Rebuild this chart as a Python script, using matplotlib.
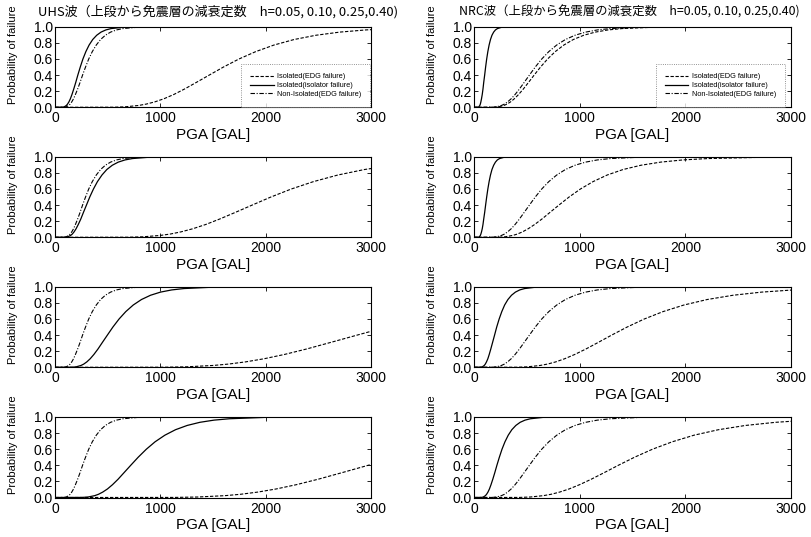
import matplotlib
matplotlib.use("Agg")
import matplotlib.pyplot as plt

plt.rcParams['font.family'] = ['Liberation Sans', 'Noto Sans CJK JP']

pga_max = 3000
p_levels = [0.001, 0.006, 0.023, 0.040, 0.067, 0.106, 0.159, 0.227, 0.309, 0.401, 0.5,
            0.599, 0.691, 0.773, 0.841, 0.894, 0.933, 0.960, 0.977, 0.994, 0.999]

# PGA [gal] where each fragility curve reaches p_levels
# rows: damping h = 0.05, 0.10, 0.25, 0.40
uhs_iso_edg = [
    [560, 667, 795, 867, 947, 1034, 1128, 1230, 1342, 1466, 1600, 1746, 1906, 2080,
     2270, 2478, 2704, 2952, 3222],
    [697, 834, 998, 1093, 1195, 1308, 1431, 1564, 1712, 1874, 2050, 2243, 2454, 2686,
     2938, 3214],
    [1040, 1251, 1503, 1647, 1808, 1985, 2177, 2388, 2618, 2873, 3150],
    [1138, 1355, 1615, 1762, 1924, 2100, 2291, 2499, 2727, 2977, 3250],
]
uhs_iso_iso = [
    [72, 88, 108, 119, 132, 146, 161, 178, 197, 217, 240, 265, 293, 324, 358, 396, 437,
     483, 534, 652, 797],
    [99, 121, 148, 164, 181, 200, 221, 245, 270, 299, 330, 365, 403, 446, 492, 544, 601,
     665, 735, 897, 1096],
    [166, 202, 247, 273, 302, 334, 369, 408, 450, 498, 550, 608, 672, 743, 821, 907, 1002,
     1108, 1224, 1495, 1826],
    [261, 314, 377, 413, 453, 498, 546, 599, 656, 720, 790, 867, 950, 1043, 1144, 1255,
     1376, 1510, 1656, 1992, 2397],
]
uhs_non_iso = [87, 107, 130, 144, 159, 176, 194, 215, 238, 262, 290, 320, 354, 392, 433,
               478, 528, 584, 646, 788, 963]

nrc_iso_edg = [
    [190, 232, 283, 313, 346, 382, 422, 467, 516, 570, 630, 696, 769, 851, 940, 1039,
     1148, 1269, 1402, 1712, 2092],
    [233, 293, 366, 410, 458, 513, 574, 643, 719, 805, 900, 1007, 1127, 1261, 1411, 1580,
     1768, 1978, 2214, 2772, 3471],
    [412, 508, 626, 696, 773, 858, 953, 1059, 1176, 1305, 1450, 1611, 1789, 1987, 2207,
     2452, 2723, 3025],
    [432, 532, 657, 730, 810, 900, 999, 1110, 1233, 1368, 1520, 1689, 1876, 2082, 2313,
     2570, 2855, 3171],
]
nrc_iso_iso = [
    [39, 46, 55, 60, 65, 71, 78, 85, 92, 101, 110, 120, 131, 143, 156, 170, 186, 203, 222,
     264, 314],
    [42, 50, 60, 65, 71, 78, 85, 92, 101, 110, 120, 131, 143, 156, 170, 186, 203, 221, 242,
     288, 343],
    [65, 79, 97, 107, 118, 131, 144, 159, 176, 195, 215, 238, 263, 290, 321, 355, 392, 433,
     479, 584, 714],
    [72, 88, 108, 119, 132, 146, 161, 178, 197, 217, 240, 265, 293, 324, 358, 396, 437,
     483, 534, 652, 797],
]
nrc_non_iso = [175, 213, 260, 288, 318, 352, 389, 430, 475, 525, 580, 641, 708, 783, 865,
               956, 1057, 1168, 1291, 1576, 1926]

legend_labels = ['Isolated(EDG failure)', 'Isolated(isolator failure)',
                 'Non-Isolated(EDG failure)']
titles = ['UHS波（上段から免震層の減衰定数\u3000h=0.05, 0.10, 0.25,0.40)',
          'NRC波（上段から免震層の減衰定数\u3000h=0.05, 0.10, 0.25,0.40)']


def curve(pga):
    x = [0] + list(pga)
    y = [0] + p_levels[:len(pga)]
    if pga[-1] < pga_max:
        x.append(pga_max)
        y.append(1.0)
    return x, y


W, H = 811, 537
fig = plt.figure(figsize=(W / 100, H / 100), dpi=100)

col_left = [55, 474]
col_width = [316, 317]
row_bottom = [107.3, 237.3, 367.3, 497.5]
ax_h = 80.6

data = [(uhs_iso_edg, uhs_iso_iso, uhs_non_iso),
        (nrc_iso_edg, nrc_iso_iso, nrc_non_iso)]
legend_x = [1.0, 0.984]

for c in range(2):
    edg, iso, non = data[c]
    for r in range(4):
        ax = fig.add_axes([col_left[c] / W, 1 - row_bottom[r] / H,
                           col_width[c] / W, ax_h / H])
        x, y = curve(edg[r])
        ax.plot(x, y, color='k', lw=0.8, dashes=(3, 1.5), label=legend_labels[0])
        x, y = curve(iso[r])
        ax.plot(x, y, color='k', lw=0.9, ls='-', label=legend_labels[1])
        x, y = curve(non)
        ax.plot(x, y, color='k', lw=0.8, dashes=(4, 1.5, 1, 1.5), label=legend_labels[2])

        ax.set_xlim(0, 3000)
        ax.set_ylim(0, 1.0)
        ax.set_xticks([0, 1000, 2000, 3000])
        ax.set_yticks([0, 0.2, 0.4, 0.6, 0.8, 1.0])
        ax.set_yticklabels(['0.0', '0.2', '0.4', '0.6', '0.8', '1.0'])
        ax.tick_params(direction='in', top=True, right=True, length=3,
                       width=0.6, labelsize=10)
        ax.tick_params(axis='y', pad=1.5)
        ax.tick_params(axis='x', pad=3)
        for s in ax.spines.values():
            s.set_linewidth(0.8)
        ax.set_xlabel('PGA [GAL]', fontsize=11, labelpad=2)
        ax.set_ylabel('Probability of failure', fontsize=8)
        ax.yaxis.set_label_coords(-0.117, 0.65)

        if r == 0:
            leg = ax.legend(loc='lower right', bbox_to_anchor=(legend_x[c], 0.0),
                            fontsize=5.3, handlelength=3.2, labelspacing=0.2,
                            borderpad=1.2, borderaxespad=0.1, fancybox=False,
                            handletextpad=0.5)
            frame = leg.get_frame()
            frame.set_linestyle(':')
            frame.set_edgecolor('0.3')
            frame.set_linewidth(0.6)

fig.text(38 / W, 1 - 12 / H, titles[0], fontsize=9.4, va='center', ha='left',
         family=['Noto Sans CJK JP'])
fig.text(459 / W, 1 - 12 / H, titles[1], fontsize=8.9, va='center', ha='left',
         family=['Noto Sans CJK JP'])

fig.savefig('out.png', dpi=100)
